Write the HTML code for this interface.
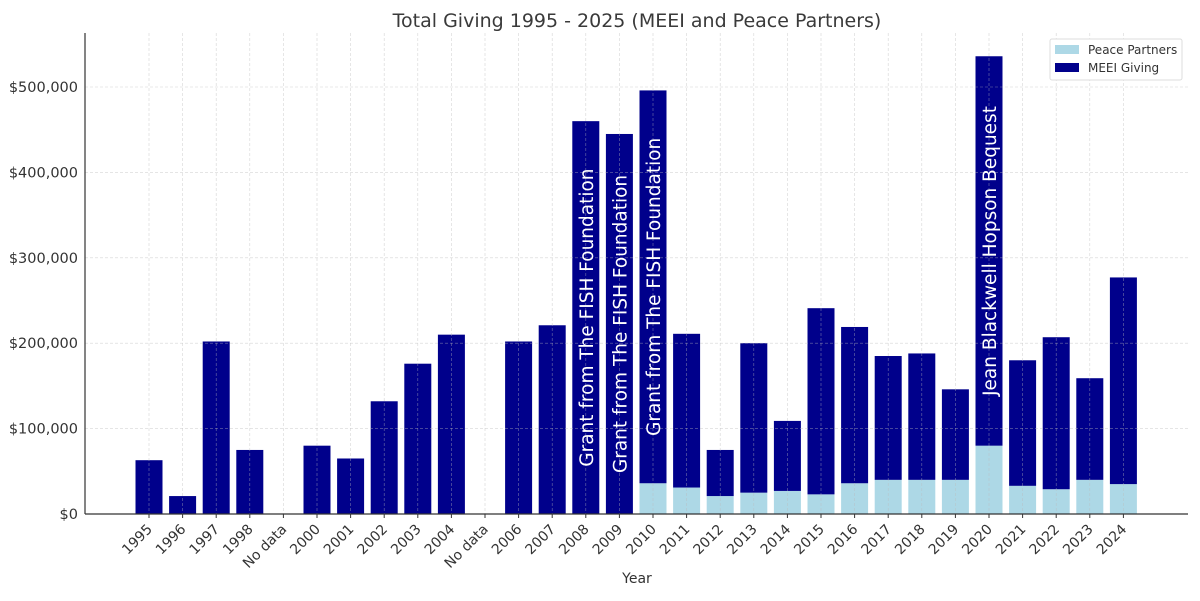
<!DOCTYPE html>
<html><head><meta charset="utf-8"><style>
body{margin:0;background:#fff;}
svg{display:block;font-family:"DejaVu Sans","Liberation Sans",sans-serif;}
</style></head><body>
<svg id="chart" width="1200" height="601" viewBox="0 0 1200 601">
<text x="637" y="27" text-anchor="middle" font-size="19" fill="#3a3a3a">Total Giving 1995 - 2025 (MEEI and Peace Partners)</text>
<g id="grid"></g><g id="bars"></g><g id="overgrid"></g><g id="ann"></g><g id="axes"></g>
<text x="637" y="583" text-anchor="middle" font-size="14" fill="#333">Year</text>
<g>
<rect x="1050" y="39" width="132" height="41" fill="#fff" stroke="#ddd" rx="2"/>
<rect x="1055" y="45" width="24" height="9" fill="#add8e6"/>
<text x="1088" y="54" font-size="12" fill="#333">Peace Partners</text>
<rect x="1055" y="63" width="24" height="9" fill="#00008b"/>
<text x="1088" y="72" font-size="12" fill="#333">MEEI Giving</text>
</g>
</svg>
<script>
const categories=["1995","1996","1997","1998","No data","2000","2001","2002","2003","2004","No data","2006","2007","2008","2009","2010","2011","2012","2013","2014","2015","2016","2017","2018","2019","2020","2021","2022","2023","2024"];
const peace=[0,0,0,0,0,0,0,0,0,0,0,0,0,0,0,36000,31000,21000,25000,27000,23000,36000,40000,40000,40000,80000,33000,29000,40000,35000];
const meei=[63000,21000,202000,75000,0,80000,65000,132000,176000,210000,0,202000,221000,460000,445000,460000,180000,54000,175000,82000,218000,183000,145000,148000,106000,456000,147000,178000,119000,242000];
const yTicks=[0,100000,200000,300000,400000,500000];
const yTickLabels=["$0","$100,000","$200,000","$300,000","$400,000","$500,000"];
const annIdx=[13,14,15,25];
const annText=["Grant from The FISH Foundation","Grant from The FISH Foundation","Grant from The FISH Foundation","Jean Blackwell Hopson Bequest"];

const NS="http://www.w3.org/2000/svg";
const L=85,R=1188,T=33,B=514;
const x=i=>149+i*33.6;
const y=v=>B-v*(B-87)/500000;
const BW=27;
function mk(p,tag,a){const e=document.createElementNS(NS,tag);for(const k in a)e.setAttribute(k,a[k]);document.getElementById(p).appendChild(e);return e;}
yTicks.forEach((t,i)=>{
 const g=mk('overgrid','line',{x1:L,x2:R,y1:y(t),y2:y(t),stroke:'#bbb','stroke-width':0.6,'stroke-dasharray':'3,2',opacity:0.6});
 
 
 const tx=mk('axes','text',{x:L-7,y:y(t)+5,'text-anchor':'end','font-size':14.5,fill:'#333'});
 tx.textContent=yTickLabels[i];
 
 
});
categories.forEach((c,i)=>{
 const g=mk('overgrid','line',{x1:x(i),x2:x(i),y1:T,y2:B,stroke:'#bbb','stroke-width':0.6,'stroke-dasharray':'3,2',opacity:0.6});
 
 
 if(peace[i]>0){
  const r=mk('bars','rect',{x:x(i)-BW/2,y:y(peace[i]),width:BW,height:B-y(peace[i]),fill:'#add8e6'});
  
  
 }
 if(meei[i]>0){
  const r=mk('bars','rect',{x:x(i)-BW/2,y:y(peace[i]+meei[i]),width:BW,height:y(peace[i])-y(peace[i]+meei[i]),fill:'#00008b'});
  
  
 }
 const tk=mk('axes','line',{x1:x(i),x2:x(i),y1:B,y2:B+4,stroke:'#333','stroke-width':1});
 
 
 const lx=x(i)+4,ly=B+16;
 const tx=mk('axes','text',{x:lx,y:ly,'text-anchor':'end','font-size':14,fill:'#333',transform:`rotate(-45 ${lx} ${ly})`});
 tx.textContent=c;
 
 
});
annIdx.forEach((i,k)=>{
 const cyy=(y(peace[i])+y(peace[i]+meei[i]))/2;
 const tx=mk('ann','text',{x:x(i)+7,y:cyy,'text-anchor':'middle','font-size':18.5,fill:'#fff',transform:`rotate(-90 ${x(i)+7} ${cyy})`});
 tx.textContent=annText[k];
 
 
});
const la=mk('axes','line',{x1:L,x2:L,y1:T,y2:B,stroke:'#333','stroke-width':1.2});


const lb=mk('axes','line',{x1:L,x2:R,y1:B,y2:B,stroke:'#333','stroke-width':1.2});


</script>
</body></html>
